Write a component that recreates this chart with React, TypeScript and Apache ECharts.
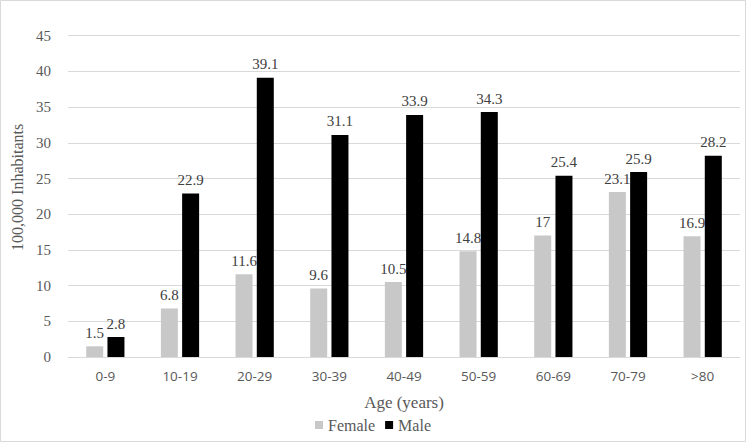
import React, { useEffect, useRef } from "react";
import * as echarts from "echarts";

const categories = ["0-9", "10-19", "20-29", "30-39", "40-49", "50-59", "60-69", "70-79", ">80"];
const female = [1.5, 6.8, 11.6, 9.6, 10.5, 14.8, 17, 23.1, 16.9];
const male = [2.8, 22.9, 39.1, 31.1, 33.9, 34.3, 25.4, 25.9, 28.2];

export default function App() {
  const ref = useRef<HTMLDivElement>(null);
  useEffect(() => {
    const chart = echarts.init(ref.current!, null, { renderer: "svg" });
    const serif = "'Liberation Serif', 'DejaVu Serif', serif";
    const labelStyle = {
      show: true,
      position: "top" as const,
      fontFamily: serif,
      fontSize: 15,
      color: "#404040",
      distance: 6,
    };
    chart.setOption({
      animation: false,
      backgroundColor: "#ffffff",
      graphic: [
        {
          type: "rect",
          shape: { x: 0.5, y: 0.5, width: 745, height: 441 },
          style: { fill: "none", stroke: "#d9d9d9", lineWidth: 1 },
          silent: true,
        },
      ],
      grid: { left: 68, right: 6, top: 35.7, bottom: 85 },
      legend: {
        top: 412,
        left: "center",
        itemWidth: 8,
        itemHeight: 8,
        itemGap: 10,
        icon: "rect",
        textStyle: { fontFamily: serif, fontSize: 16, color: "#595959" },
        data: ["Female", "Male"],
      },
      xAxis: {
        type: "category",
        data: categories,
        name: "Age (years)",
        nameLocation: "middle",
        nameGap: 37,
        nameTextStyle: { fontFamily: serif, fontSize: 17, color: "#595959" },
        axisLine: { lineStyle: { color: "#d9d9d9" } },
        axisTick: { show: false },
        axisLabel: {
          fontFamily: "'Open Sans', 'Liberation Sans', sans-serif",
          fontSize: 13.5,
          color: "#595959",
          margin: 12,
        },
      },
      yAxis: {
        type: "value",
        min: 0,
        max: 45,
        interval: 5,
        name: "100,000 Inhabitants",
        nameLocation: "middle",
        nameGap: 42,
        nameTextStyle: { fontFamily: serif, fontSize: 16, color: "#595959", padding: [0, 0, 0, 18] },
        axisLine: { show: false },
        axisTick: { show: false },
        splitLine: { lineStyle: { color: "#d9d9d9" } },
        axisLabel: { fontFamily: serif, fontSize: 15, color: "#595959", margin: 17 },
      },
      series: [
        {
          name: "Female",
          type: "bar",
          data: female,
          barWidth: 17,
          barGap: "25%",
          itemStyle: { color: "#c8c8c8" },
          label: labelStyle,
        },
        {
          name: "Male",
          type: "bar",
          data: male,
          barWidth: 17,
          itemStyle: { color: "#000000" },
          label: labelStyle,
        },
      ],
    });
    return () => chart.dispose();
  }, []);
  return <div ref={ref} style={{ width: 746, height: 442, position: "absolute", left: 0, top: 0 }} />;
}
